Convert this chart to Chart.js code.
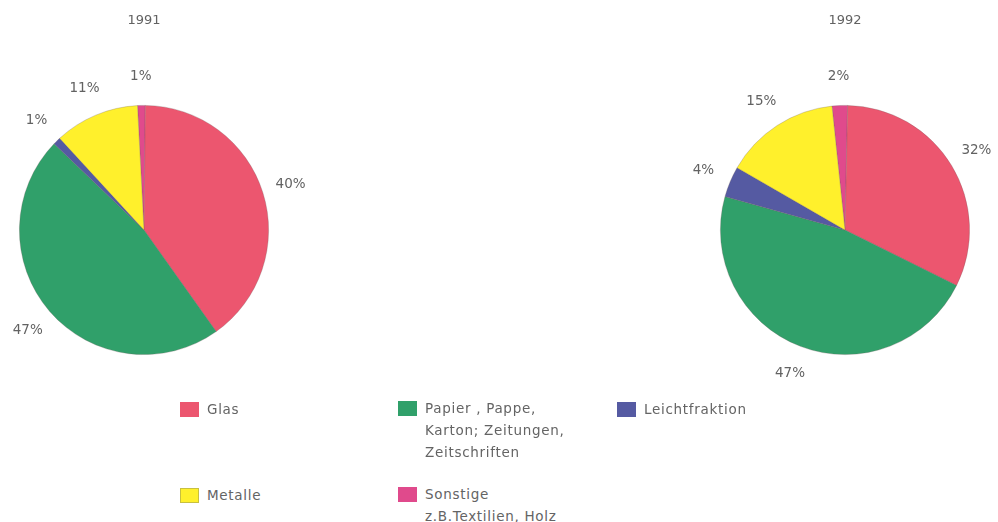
<!DOCTYPE html>
<html lang="de">
<head>
<meta charset="utf-8">
<title>Wertstoffe 1991 / 1992</title>
<script src="https://cdn.jsdelivr.net/npm/chart.js@4.4.1/dist/chart.umd.min.js"></script>
<style>
  html, body { margin: 0; padding: 0; background: #fff; }
  body { width: 998px; height: 522px; position: relative; overflow: hidden;
         font-family: "DejaVu Sans", sans-serif; color: #646464; }
  canvas { position: absolute; }
  #c1991 { left: 0; top: 0; }
  #c1992 { left: 640px; top: 0; }
  .item { position: absolute; font-size: 13.5px; line-height: 22px; letter-spacing: 0.7px; }
  .sw { position: absolute; width: 19px; height: 15px; }
  .tx { position: absolute; white-space: nowrap; }
</style>
</head>
<body>
<canvas id="c1991" width="360" height="400"></canvas>
<canvas id="c1992" width="358" height="400"></canvas>
<div id="legend"></div>
<script>
// Fractions, clockwise from the top
const years = ['1991', '1992'];
const fractions = ['Sonstige z.B.Textilien, Holz', 'Glas', 'Papier, Pappe, Karton; Zeitungen, Zeitschriften', 'Leichtfraktion', 'Metalle'];
const share1991 = [1, 40, 47, 1, 11];
const share1992 = [2, 32, 47, 4, 15];
const colors = ['#e04a8c', '#ec566f', '#30a06a', '#555aa2', '#fff02c'];

// Legend entries: swatch colour index and text lines
const legendItems = [
  { c: 1, lines: ['Glas'] },
  { c: 2, lines: ['Papier , Pappe,', 'Karton; Zeitungen,', 'Zeitschriften'] },
  { c: 3, lines: ['Leichtfraktion'] },
  { c: 4, lines: ['Metalle'] },
  { c: 0, lines: ['Sonstige', 'z.B.Textilien, Holz'] }
];
const legendSlots = [
  { x: 180, y: 398 }, { x: 398, y: 397 }, { x: 617, y: 398 },
  { x: 180, y: 484 }, { x: 398, y: 483 }
];

const legend = document.getElementById('legend');
legendItems.forEach((it, i) => {
  const d = document.createElement('div');
  d.className = 'item';
  d.style.left = legendSlots[i].x + 'px';
  d.style.top = legendSlots[i].y + 'px';
  const sw = document.createElement('div');
  sw.className = 'sw';
  sw.style.left = '0px';
  sw.style.top = '4px';
  sw.style.background = colors[it.c];
  if (it.c === 4) { sw.style.boxShadow = 'inset 0 0 0 1px #c8c040'; }
  const tx = document.createElement('div');
  tx.className = 'tx';
  tx.style.left = '27px';
  tx.style.top = '0px';
  tx.innerHTML = it.lines.join('<br>');
  d.appendChild(sw);
  d.appendChild(tx);
  legend.appendChild(d);
});

// Percent labels outside each slice plus the year above the pie
const outerLabels = {
  id: 'outerLabels',
  afterDatasetsDraw(chart, args, opts) {
    const ctx = chart.ctx;
    const meta = chart.getDatasetMeta(0);
    const data = chart.data.datasets[0].data;
    ctx.save();
    ctx.fillStyle = '#626262';
    ctx.textAlign = 'center';
    ctx.textBaseline = 'middle';
    ctx.font = '13.5px "DejaVu Sans", sans-serif';
    meta.data.forEach((arc, i) => {
      const mid = (arc.startAngle + arc.endAngle) / 2;
      const r = arc.outerRadius + opts.offset;
      ctx.fillText(data[i] + '%', arc.x + Math.cos(mid) * r, arc.y + Math.sin(mid) * r);
    });
    ctx.font = '13px "DejaVu Sans", sans-serif';
    const a0 = meta.data[0];
    ctx.fillText(opts.year, a0.x, opts.titleY);
    ctx.restore();
  }
};

function makePie(id, values, year, rotation, padding) {
  return new Chart(document.getElementById(id), {
    type: 'pie',
    data: {
      labels: fractions,
      datasets: [{
        data: values,
        backgroundColor: colors,
        borderColor: 'rgba(110,90,90,0.35)',
        borderWidth: 0.8
      }]
    },
    options: {
      responsive: false,
      animation: false,
      rotation: rotation,
      layout: { padding: padding },
      plugins: {
        legend: { display: false },
        tooltip: { enabled: false },
        outerLabels: { offset: 29, year: year, titleY: 21 }
      }
    },
    plugins: [outerLabels]
  });
}

makePie('c1991', share1991, years[0], -3, { left: 19, right: 91, top: 105, bottom: 45 });
makePie('c1992', share1992, years[1], -6, { left: 80, right: 28, top: 105, bottom: 45 });
</script>
</body>
</html>
